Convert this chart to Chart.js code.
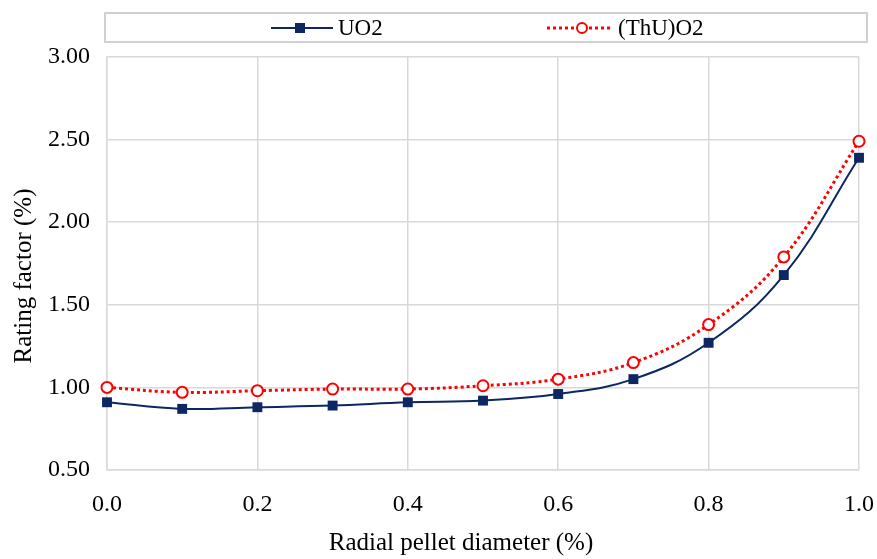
<!DOCTYPE html>
<html>
<head>
<meta charset="utf-8">
<script src="https://cdn.jsdelivr.net/npm/chart.js@4.4.1/dist/chart.umd.min.js"></script>
<style>
  html, body { margin: 0; padding: 0; background: #fff; }
  #wrap { width: 877px; height: 559px; }
</style>
</head>
<body>
<div id="wrap"><canvas id="myChart" width="877" height="559"></canvas></div>
<script>
// radial position and rating factor
const diameters = [0.0, 0.1, 0.2, 0.3, 0.4, 0.5, 0.6, 0.7, 0.8, 0.9, 1.0];
const uo2 = [0.91, 0.87, 0.88, 0.89, 0.91, 0.92, 0.96, 1.05, 1.27, 1.68, 2.39];
const thuo2 = [1.00, 0.97, 0.98, 0.99, 0.99, 1.01, 1.05, 1.15, 1.38, 1.79, 2.49];
const seriesNames = ['UO2', '(ThU)O2'];
const xTitle = 'Radial pellet diameter (%)';
const yTitle = 'Rating factor (%)';

const navy = '#0c2762';
const red = '#ff0000';
const gridColor = '#d9d9d9';
const serif = "'Liberation Serif', 'Times New Roman', serif";

function toPoints(values) {
  return diameters.map((d, i) => ({ x: d, y: values[i] }));
}

// legend box and axis titles drawn by hand
const extras = {
  id: 'extras',
  afterDraw(chart) {
    const ctx = chart.ctx;
    ctx.save();
    // legend frame
    ctx.strokeStyle = '#d0d0d0';
    ctx.lineWidth = 2;
    ctx.strokeRect(105, 13, 762, 29);

    const cy = 28;
    // UO2 entry
    ctx.strokeStyle = navy;
    ctx.lineWidth = 2;
    ctx.setLineDash([]);
    ctx.beginPath();
    ctx.moveTo(271, cy);
    ctx.lineTo(333, cy);
    ctx.stroke();
    ctx.fillStyle = navy;
    ctx.fillRect(295, cy - 5, 10, 10);

    // (ThU)O2 entry
    ctx.strokeStyle = red;
    ctx.lineWidth = 3;
    ctx.setLineDash([3, 3]);
    ctx.beginPath();
    ctx.moveTo(547, cy);
    ctx.lineTo(611, cy);
    ctx.stroke();
    ctx.setLineDash([]);
    ctx.lineWidth = 2;
    ctx.fillStyle = '#fff';
    ctx.beginPath();
    ctx.arc(582, cy, 5, 0, Math.PI * 2);
    ctx.fill();
    ctx.stroke();

    ctx.fillStyle = '#000';
    ctx.font = '23px ' + serif;
    ctx.textBaseline = 'middle';
    ctx.textAlign = 'left';
    ctx.fillText(seriesNames[0], 338, cy + 1);
    ctx.fillText(seriesNames[1], 618, cy + 1);

    // axis titles
    ctx.font = '25px ' + serif;
    ctx.textAlign = 'center';
    ctx.fillText(xTitle, 461, 543);
    ctx.translate(24, 276);
    ctx.rotate(-Math.PI / 2);
    ctx.fillText(yTitle, 0, 0);
    ctx.restore();
  }
};

const data = {
  datasets: [
    {
      label: seriesNames[0],
      data: toPoints(uo2),
      borderColor: navy,
      backgroundColor: navy,
      borderWidth: 2,
      pointStyle: 'rect',
      pointRadius: 7,
      pointBorderWidth: 0,
      tension: 0.4,
      clip: false,
    },
    {
      label: seriesNames[1],
      data: toPoints(thuo2),
      borderColor: red,
      backgroundColor: '#fff',
      borderWidth: 3,
      borderDash: [3, 3],
      pointStyle: 'circle',
      pointRadius: 5.5,
      pointBorderWidth: 2,
      tension: 0.4,
      clip: false,
    }
  ]
};

const config = {
  type: 'line',
  data: data,
  plugins: [extras],
  options: {
    responsive: false,
    animation: false,
    layout: { padding: { top: 57, right: 18, left: 0, bottom: 0 } },
    plugins: {
      legend: { display: false },
      tooltip: { enabled: false }
    },
    scales: {
      x: {
        type: 'linear',
        min: 0,
        max: 1,
        afterFit(scale) {
          scale.height = 89;
          scale.paddingLeft = 0;
          scale.paddingRight = 0;
        },
        ticks: {
          stepSize: 0.2,
          color: '#000',
          padding: 20,
          font: { family: serif, size: 24 },
          callback: v => v.toFixed(1)
        },
        grid: { color: gridColor, lineWidth: 1.5, drawTicks: false },
        border: { color: gridColor, width: 1.5 }
      },
      y: {
        min: 0.5,
        max: 3,
        afterFit(scale) {
          scale.width = 107;
          scale.paddingTop = 0;
          scale.paddingBottom = 0;
        },
        ticks: {
          stepSize: 0.5,
          color: '#000',
          padding: 17,
          font: { family: serif, size: 24 },
          callback: v => v.toFixed(2)
        },
        grid: { color: gridColor, lineWidth: 1.5, drawTicks: false },
        border: { color: gridColor, width: 1.5 }
      }
    }
  }
};

const myChart = new Chart(document.getElementById('myChart'), config);
</script>
</body>
</html>
